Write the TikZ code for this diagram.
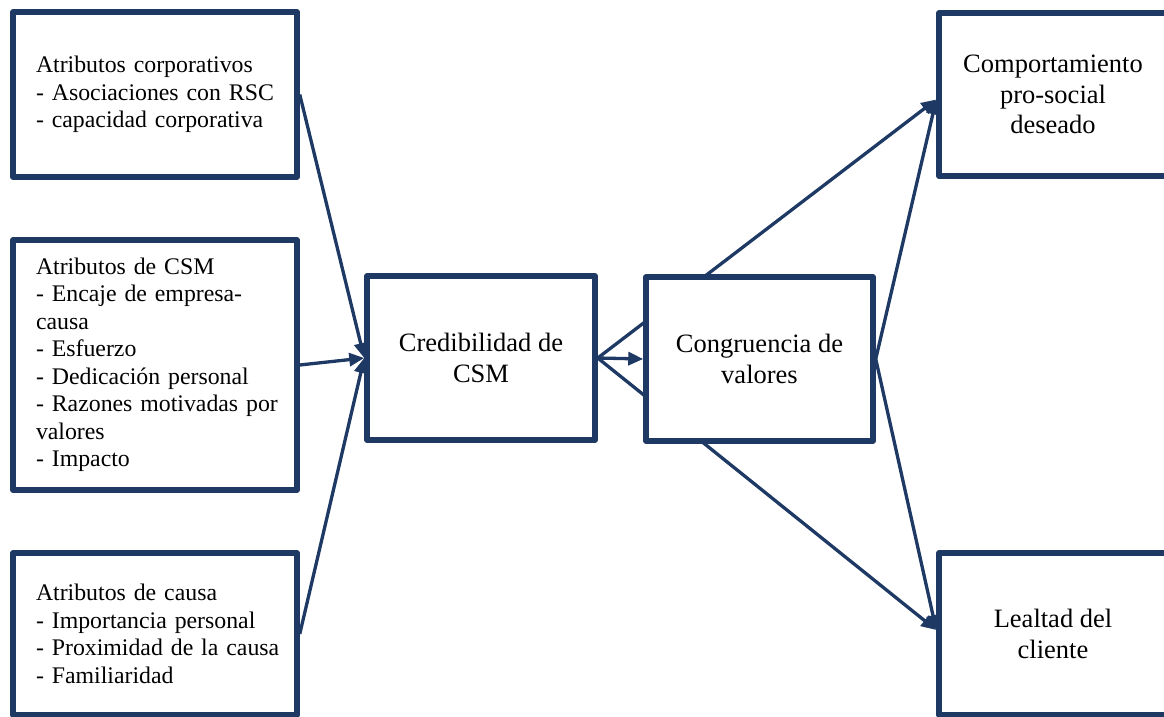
\documentclass[tikz,border=0pt]{standalone}
\usepackage{fontspec}
\setmainfont{Liberation Serif}
\newfontfamily\leftserif[WordSpace={0.75,0.5,0.5}]{Liberation Serif}
\usetikzlibrary{arrows.meta}
\definecolor{navy}{RGB}{30,57,99}
\begin{document}
\begin{tikzpicture}[x=1pt,y=-1pt,
  box/.style={draw=navy, line width=5.5pt, line join=round, fill=white, rectangle, inner sep=0pt},
  leftbox/.style={box, minimum width=284pt, text width=238pt, align=left, font=\leftserif\fontsize{23.8}{27.5}\selectfont},
  midbox/.style={box, minimum width=228pt, minimum height=164pt, align=center, font=\fontsize{26.5}{30.5}\selectfont},
  conn/.style={draw=navy, line width=3.3pt},
  arr/.style={conn, -{Triangle[length=15pt,width=13pt]}}
]
\useasboundingbox (0,0) rectangle (1164,717);

\node[leftbox, minimum height=165pt] (A) at (155,94.5) {\mbox{Atributos corporativos}\\\mbox{- Asociaciones con RSC}\\\mbox{- capacidad corporativa}};
\node[leftbox, minimum height=250pt] (B) at (155,365) {\mbox{Atributos de CSM}\\\mbox{- Encaje de empresa-}\\causa\\- Esfuerzo\\\mbox{- Dedicación personal}\\\mbox{- Razones motivadas por}\\valores\\- Impacto};
\node[leftbox, minimum height=162pt] (C) at (155,634) {\mbox{Atributos de causa}\\\mbox{- Importancia personal}\\\mbox{- Proximidad de la causa}\\- Familiaridad};

\node[midbox] (Cred) at (481,358) {Credibilidad de\\CSM};
\node[midbox, minimum height=163pt] (Comp) at (1053,94.5) {Comportamiento\\pro-social\\deseado};
\node[midbox, minimum height=162pt] (Leal) at (1053,634) {Lealtad del\\cliente};

% connectors passing behind the Congruencia box
\draw[arr] (Cred.east) -- ([yshift=-5pt]Comp.west);
\draw[arr] (Cred.east) -- ([yshift=4pt]Leal.west);

\node[midbox, minimum width=227pt] (Cong) at (759.5,359) {Congruencia de\\valores};

\draw[arr] (A.east) -- (Cred.west);
\draw[arr] (B.east) -- (Cred.west);
\draw[arr] (C.east) -- (Cred.west);
\draw[arr] (Cred.east) -- (Cong.west);
\draw[arr] (Cong.east) -- ([yshift=-5pt]Comp.west);
\draw[arr] (Cong.east) -- ([yshift=4pt]Leal.west);
\end{tikzpicture}
\end{document}
